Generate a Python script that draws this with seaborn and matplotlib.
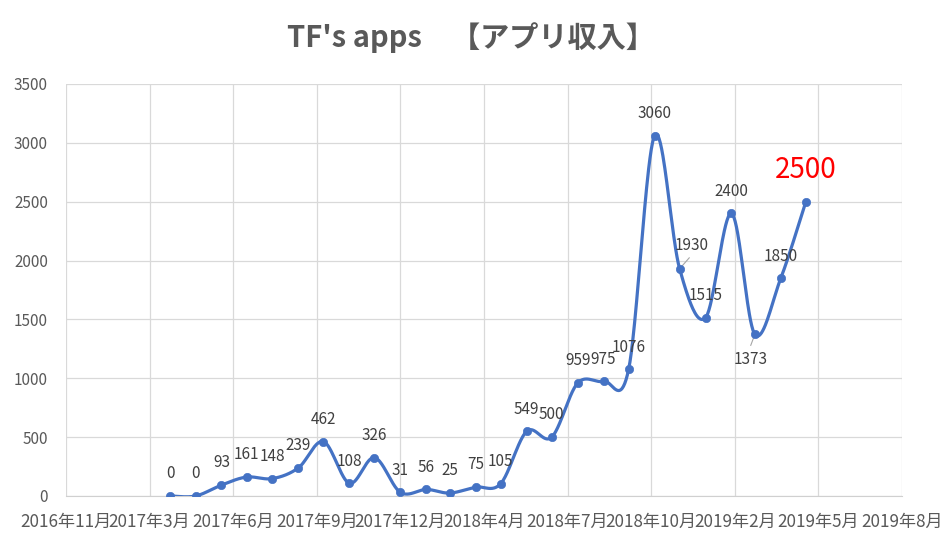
import datetime as dt
import numpy as np
import pandas as pd
import seaborn as sns
import matplotlib.pyplot as plt
import matplotlib.dates as mdates

# monthly app revenue
months = ['2017-04', '2017-05', '2017-06', '2017-07', '2017-08', '2017-09',
          '2017-10', '2017-11', '2017-12', '2018-01', '2018-02', '2018-03',
          '2018-04', '2018-05', '2018-06', '2018-07', '2018-08', '2018-09',
          '2018-10', '2018-11', '2018-12', '2019-01', '2019-02', '2019-03',
          '2019-04', '2019-05']
revenue = [0, 0, 93, 161, 148, 239, 462, 108, 326, 31, 56, 25, 75, 105,
           549, 500, 959, 975, 1076, 3060, 1930, 1515, 2400, 1373, 1850, 2500]

tick_labels = ['2016年11月', '2017年3月', '2017年6月', '2017年9月', '2017年12月',
               '2018年4月', '2018年7月', '2018年10月', '2019年2月', '2019年5月',
               '2019年8月']
y_ticks = [0, 500, 1000, 1500, 2000, 2500, 3000, 3500]
title = "TF's apps　【アプリ収入】"

sns.set_style('white')
plt.rcParams['font.family'] = ['Noto Sans CJK JP', 'DejaVu Sans']

df = pd.DataFrame({'month': pd.to_datetime(months), 'revenue': revenue})
df['x'] = mdates.date2num(df['month'])

# excel-like smoothed line (catmull-rom bezier through the points)
def smooth(xs, ys, steps=40):
    p = np.column_stack([xs, ys]).astype(float)
    n = len(p)
    out = []
    for i in range(n - 1):
        p0 = p[max(i - 1, 0)]
        p1 = p[i]
        p2 = p[i + 1]
        p3 = p[min(i + 2, n - 1)]
        c1 = p1 + (p2 - p0) / 6
        c2 = p2 - (p3 - p1) / 6
        t = np.linspace(0, 1, steps)[:, None]
        seg = ((1 - t) ** 3) * p1 + 3 * ((1 - t) ** 2) * t * c1 + 3 * (1 - t) * t ** 2 * c2 + t ** 3 * p2
        out.append(seg if i == 0 else seg[1:])
    arr = np.vstack(out)
    return pd.DataFrame({'x': arr[:, 0], 'y': arr[:, 1]})

curve = smooth(df['x'], df['revenue'])

fig = plt.figure(figsize=(9.47, 5.39), dpi=100)
ax = fig.add_axes([66 / 947, 1 - 496 / 539, (902 - 66) / 947, (496 - 84) / 539])

blue = '#4472C4'
sns.lineplot(data=curve, x='x', y='y', sort=False, estimator=None,
             color=blue, lw=2.3, ax=ax, zorder=3)
sns.scatterplot(data=df, x='x', y='revenue', color=blue, edgecolor=blue,
                s=36, ax=ax, zorder=4)

start = mdates.date2num(dt.date(2016, 11, 27))
x_ticks = [start + 100 * k for k in range(len(tick_labels))]
ax.set_xlim(x_ticks[0], x_ticks[-1])
ax.set_ylim(0, 3500)
ax.set_xticks(x_ticks)
ax.set_xticklabels(tick_labels, fontsize=12.3, color='#595959')
ax.set_yticks(y_ticks)
ax.set_yticklabels([str(v) for v in y_ticks], fontsize=11, color='#595959')
ax.tick_params(axis='both', length=0)
ax.tick_params(axis='x', pad=12)
ax.tick_params(axis='y', pad=13)
ax.grid(True, color='#d9d9d9', lw=0.9)
ax.set_axisbelow(True)
for s in ['top', 'right', 'left']:
    ax.spines[s].set_visible(False)
ax.spines['bottom'].set_color('#d0d0d0')
ax.set_xlabel('')
ax.set_ylabel('')

# data label offsets in points
offsets = {i: (0, 16) for i in range(len(revenue))}
offsets[20] = (9, 17)
offsets[23] = (-3, -18)
offsets[25] = (0, 23)

for i, (x, v) in enumerate(zip(df['x'], df['revenue'])):
    dx, dy = offsets[i]
    if i == len(revenue) - 1:
        ax.annotate(str(v), (x, v), xytext=(dx, dy), textcoords='offset points',
                    ha='center', va='center', fontsize=20, color='#FF0000')
    else:
        ax.annotate(str(v), (x, v), xytext=(dx, dy), textcoords='offset points',
                    ha='center', va='center', fontsize=11, color='#404040')

# leader lines for shifted labels
for i, (tx, ty) in {20: (7, 8), 23: (-3, -8)}.items():
    ax.annotate('', (df['x'][i], revenue[i]), xytext=(tx, ty),
                textcoords='offset points',
                arrowprops=dict(arrowstyle='-', color='#a6a6a6', lw=0.8,
                                shrinkA=0, shrinkB=2))

fig.text(0.497, 1 - 38 / 539, title, ha='center', va='center',
         fontsize=21, fontweight='bold', color='#595959')

fig.savefig('out.png', dpi=100)
